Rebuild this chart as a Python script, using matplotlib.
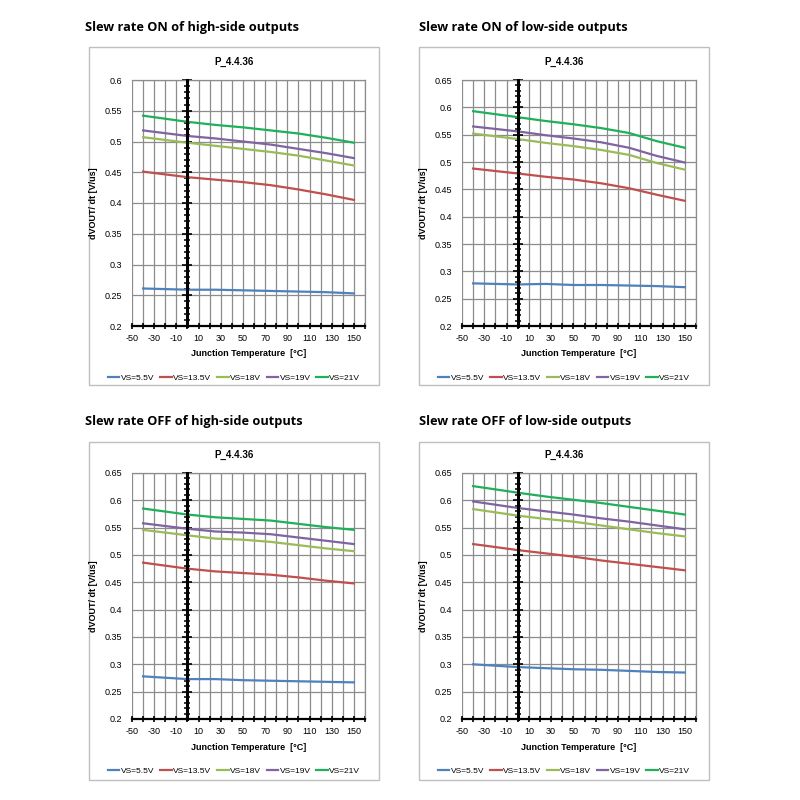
import matplotlib
matplotlib.use("Agg")
import matplotlib.pyplot as plt
import numpy as np
from matplotlib.patches import Rectangle
from matplotlib.ticker import MultipleLocator

# junction temperatures where the curves were sampled
temps = [-40, 0, 25, 50, 75, 100, 125, 150]
series_names = ["VS=5.5V", "VS=13.5V", "VS=18V", "VS=19V", "VS=21V"]
colors = ["#4F81BD", "#C0504D", "#9BBB59", "#8064A2", "#1FB05A"]

# slew rates [V/us], one list per supply voltage (5.5, 13.5, 18, 19, 21 V)
on_high = [
    [0.261, 0.259, 0.259, 0.258, 0.257, 0.256, 0.255, 0.253],
    [0.451, 0.442, 0.438, 0.434, 0.429, 0.422, 0.414, 0.405],
    [0.507, 0.498, 0.493, 0.488, 0.483, 0.477, 0.469, 0.461],
    [0.518, 0.509, 0.505, 0.500, 0.495, 0.488, 0.481, 0.473],
    [0.542, 0.532, 0.527, 0.523, 0.518, 0.513, 0.506, 0.498],
]
on_low = [
    [0.278, 0.276, 0.277, 0.275, 0.275, 0.274, 0.273, 0.271],
    [0.488, 0.479, 0.473, 0.468, 0.461, 0.452, 0.440, 0.429],
    [0.552, 0.542, 0.535, 0.529, 0.522, 0.513, 0.498, 0.486],
    [0.565, 0.556, 0.549, 0.543, 0.536, 0.526, 0.511, 0.499],
    [0.593, 0.582, 0.575, 0.569, 0.562, 0.553, 0.538, 0.526],
]
off_high = [
    [0.278, 0.273, 0.273, 0.271, 0.270, 0.269, 0.268, 0.267],
    [0.486, 0.475, 0.470, 0.467, 0.464, 0.459, 0.453, 0.448],
    [0.546, 0.536, 0.530, 0.528, 0.524, 0.518, 0.512, 0.507],
    [0.558, 0.548, 0.543, 0.541, 0.538, 0.532, 0.526, 0.520],
    [0.585, 0.574, 0.569, 0.566, 0.563, 0.557, 0.551, 0.546],
]
off_low = [
    [0.300, 0.295, 0.293, 0.291, 0.290, 0.288, 0.286, 0.285],
    [0.520, 0.509, 0.503, 0.497, 0.490, 0.484, 0.478, 0.472],
    [0.584, 0.572, 0.566, 0.561, 0.554, 0.547, 0.540, 0.534],
    [0.598, 0.586, 0.580, 0.574, 0.567, 0.561, 0.554, 0.547],
    [0.626, 0.614, 0.607, 0.601, 0.595, 0.588, 0.581, 0.574],
]

W = 800.0
CHART_FONT = "Liberation Sans"
TITLE_FONT = "Open Sans"


def fx(px):
    return px / W


def fy(py):
    return 1 - py / W


def draw_panel(fig, title, data, ymax, box, plot, title_xy):
    bx0, by0, bx1, by1 = box
    px0, py0, px1, py1 = plot

    # light grey frame around the whole chart
    fig.patches.append(Rectangle((fx(bx0), fy(by1)), fx(bx1 - bx0), (by1 - by0) / W,
                                 transform=fig.transFigure, fill=False,
                                 edgecolor="#BFBFBF", lw=1.0))
    fig.text(fx(title_xy[0]), fy(title_xy[1]), title, fontsize=9.2,
             fontweight="bold", family=TITLE_FONT, ha="left", va="center")

    ax = fig.add_axes([fx(px0), fy(py1), fx(px1 - px0), (py1 - py0) / W])
    for vals, name, c in zip(data, series_names, colors):
        ax.plot(temps, vals, color=c, lw=1.6, label=name, zorder=3)

    ax.set_xlim(-50, 160)
    ax.set_ylim(0.2, ymax)
    xt = list(range(-50, 161, 10))
    ax.set_xticks(xt)
    ax.set_xticklabels([str(t) if (t + 50) % 20 == 0 and t <= 150 else "" for t in xt],
                       fontsize=6.5, family=CHART_FONT)
    yt = np.round(np.arange(0.2, ymax + 1e-6, 0.05), 2)
    ax.set_yticks(yt)
    ax.yaxis.set_minor_locator(MultipleLocator(0.01))
    ax.grid(True, which="major", color="#8C8C8C", lw=0.9, zorder=1)
    ax.set_axisbelow(True)
    ax.tick_params(axis="x", direction="inout", length=5, width=1.2, pad=3)

    # value axis crosses the category axis at 0 degC
    ax.spines["left"].set_position(("data", 0))
    ax.spines["left"].set_linewidth(2.2)
    ax.spines["left"].set_zorder(4)
    ax.tick_params(axis="y", which="major", labelleft=False, direction="inout",
                   length=7, width=1.2)
    ax.tick_params(axis="y", which="minor", direction="inout", length=4.5, width=1.1)
    for s in ("top", "right"):
        ax.spines[s].set_color("#8C8C8C")
        ax.spines[s].set_linewidth(0.9)
    ax.spines["bottom"].set_linewidth(1.6)

    # tick labels stay at the left edge of the plot
    lab = ax.secondary_yaxis("left")
    lab.set_yticks(yt)
    lab.set_yticklabels([f"{v:g}" for v in yt], fontsize=6.5, family=CHART_FONT)
    lab.tick_params(length=0, pad=7)
    lab.spines["left"].set_visible(False)

    cx = (bx0 + bx1) / 2
    fig.text(fx(cx), fy(py0 - 18), "P_4.4.36", fontsize=7, fontweight="bold",
             family=CHART_FONT, ha="center", va="center")
    fig.text(fx(px0 - 39), fy((py0 + py1) / 2), "dVOUT/ dt [V/us]", fontsize=6.5,
             fontweight="bold", family=CHART_FONT, rotation=90, ha="center", va="center")
    fig.text(fx((px0 + px1) / 2), fy(py1 + 28), "Junction Temperature  [\u00b0C]",
             fontsize=6.5, fontweight="bold", family=CHART_FONT, ha="center", va="center")
    fig.legend(*ax.get_legend_handles_labels(), loc="center",
               bbox_to_anchor=(fx(cx), fy(py1 + 52)), ncol=5, frameon=False,
               prop={"family": CHART_FONT, "size": 6}, handlelength=1.4,
               handletextpad=0.15, columnspacing=0.7)
    return ax


fig = plt.figure(figsize=(8, 8), dpi=100)

draw_panel(fig, "Slew rate ON of high-side outputs", on_high, 0.6,
           (89, 47, 379, 385), (132, 80, 365, 326), (85, 27))
draw_panel(fig, "Slew rate ON of low-side outputs", on_low, 0.65,
           (419, 47, 709, 385), (462, 80, 696, 326), (419, 27))
draw_panel(fig, "Slew rate OFF of high-side outputs", off_high, 0.65,
           (89, 442, 379, 780), (132, 473, 365, 719), (85, 421))
draw_panel(fig, "Slew rate OFF of low-side outputs", off_low, 0.65,
           (419, 442, 709, 780), (462, 473, 696, 719), (419, 421))

fig.savefig("out.png", dpi=100, facecolor="white")
